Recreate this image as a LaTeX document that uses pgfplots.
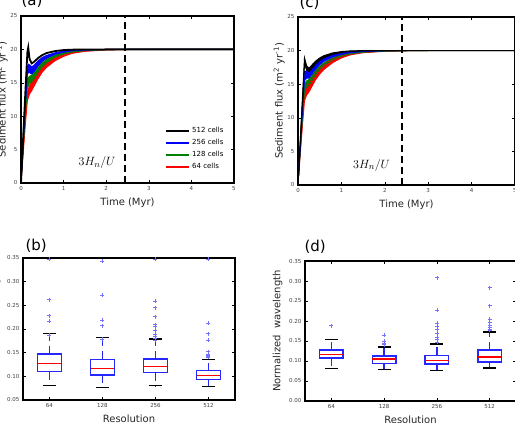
\documentclass[border=0pt]{standalone}
\usepackage{pgfplots}
\pgfplotsset{compat=1.18}
\usepgfplotslibrary{fillbetween}
\usepackage{fontspec}
\setmainfont{DejaVu Sans}
\definecolor{mplgreen}{rgb}{0,0.5,0}
\definecolor{mplblue}{rgb}{0,0,1}
\definecolor{mplred}{rgb}{1,0,0}
\definecolor{boxblue}{rgb}{0.15,0.15,1}
\pgfplotsset{
  base/.style={
    scale only axis,
    axis line style={line width=1.2pt},
    tick style={black, line width=0.5pt},
    major tick length=3pt,
    ticklabel style={font=\fontsize{5.5}{6}\selectfont, text=black!75},
    /pgf/number format/assume math mode=true,
    label style={font=\fontsize{10}{12}\selectfont, text=black!85},
  },
  fluxax/.style={base,
    xmin=0, xmax=5, ymin=0, ymax=25,
    xtick={0,1,2,3,4,5}, ytick={0,5,10,15,20,25},
    xlabel={Time (Myr)},
    ylabel={Sediment flux (m\textsuperscript{2} yr\textsuperscript{-1})},
    ylabel shift=-4pt,
  },
  boxax/.style={base,
    xmin=0.5, xmax=4.5, xtick={1,2,3,4}, xticklabels={64,128,256,512},
    scaled y ticks=false,
    yticklabel style={/pgf/number format/.cd, fixed, fixed zerofill, precision=2},
    xlabel={Resolution},
    ylabel={Normalized\ \ wavelength},
    unbounded coords=jump,
  },
}
\begin{document}
\begin{tikzpicture}

% ---------------- (a)
\begin{axis}[fluxax, at={(21pt,240pt)}, anchor=south west, width=213pt, height=167pt,
  legend style={at={(rel axis cs:0.975,0.05)}, anchor=south east, draw=none, fill=none,
    font=\fontsize{7}{8}\selectfont, row sep=1.2pt},
  legend cell align=left,
  legend image code/.code={\draw[#1, line width=1.8pt] (0pt,0pt) -- (23pt,0pt);}]
\addplot[name path=RUa, mplred, line width=0.8pt, forget plot] coordinates {(0,0)(0.05,5)(0.1,10)(0.15,13.6)(0.2,14.6)(0.25,15.1)(0.3,15.6)(0.4,16.6)(0.5,17.4)(0.6,18)(0.8,18.8)(1,19.25)(1.2,19.55)(1.5,19.8)(2,19.95)(2.5,20)(5,20)};
\addplot[name path=RLa, mplred, line width=0.8pt, forget plot] coordinates {(0,0)(0.05,4.2)(0.1,8.5)(0.15,12.3)(0.2,13.3)(0.25,13.8)(0.3,14.4)(0.4,15.6)(0.5,16.6)(0.6,17.3)(0.8,18.3)(1,18.95)(1.2,19.4)(1.5,19.7)(2,19.9)(2.5,19.97)(3,20)(5,20)};
\addplot[mplred, forget plot] fill between[of=RUa and RLa];
\addplot[name path=GUa, mplgreen, line width=0.8pt, forget plot] coordinates {(0,0)(0.05,5.5)(0.1,11)(0.15,15.6)(0.2,16)(0.25,16.1)(0.3,16.4)(0.4,17.3)(0.5,18)(0.6,18.5)(0.8,19.15)(1,19.5)(1.2,19.7)(1.5,19.87)(2,19.97)(2.5,20)(5,20)};
\addplot[name path=GLa, mplgreen, line width=0.8pt, forget plot] coordinates {(0,0)(0.05,5)(0.1,10)(0.15,14.2)(0.2,14.9)(0.25,15.1)(0.3,15.5)(0.4,16.6)(0.5,17.4)(0.6,18)(0.8,18.85)(1,19.3)(1.2,19.6)(1.5,19.8)(2,19.95)(2.5,20)(5,20)};
\addplot[mplgreen, forget plot] fill between[of=GUa and GLa];
\addplot[name path=BUa, mplblue, line width=0.8pt, forget plot] coordinates {(0,0)(0.05,6)(0.1,12)(0.15,17.4)(0.18,17.8)(0.25,17.4)(0.3,17.6)(0.4,18.3)(0.5,18.8)(0.6,19.1)(0.8,19.5)(1,19.75)(1.2,19.87)(1.5,19.95)(2,20)(5,20)};
\addplot[name path=BLa, mplblue, line width=0.8pt, forget plot] coordinates {(0,0)(0.05,5.6)(0.1,11.2)(0.15,16.2)(0.18,16.6)(0.25,16.3)(0.3,16.6)(0.4,17.5)(0.5,18.2)(0.6,18.65)(0.8,19.25)(1,19.57)(1.2,19.77)(1.5,19.9)(2,19.98)(2.5,20)(5,20)};
\addplot[mplblue, forget plot] fill between[of=BUa and BLa];
\addplot[black, line width=1.8pt, forget plot] coordinates {(0,0)(0.05,6.7)(0.1,13.3)(0.15,19.6)(0.17,20.3)(0.2,18.6)(0.25,17.9)(0.3,18.1)(0.4,18.7)(0.5,19.15)(0.6,19.45)(0.8,19.75)(1,19.9)(1.2,19.96)(1.5,19.99)(2,20)(5,20)};
\addplot[black, line width=1.5pt, dash pattern=on 7pt off 4pt, forget plot] coordinates {(2.44,0)(2.44,25)};
\node[anchor=base east, font=\fontsize{12.5}{14}\selectfont] at (axis cs:2.3,2.6) {$3H_n/U$};
\addlegendimage{black}\addlegendentry{512 cells}
\addlegendimage{mplblue}\addlegendentry{256 cells}
\addlegendimage{mplgreen}\addlegendentry{128 cells}
\addlegendimage{mplred}\addlegendentry{64 cells}
\end{axis}

% ---------------- (c)
\begin{axis}[fluxax, at={(298pt,238pt)}, anchor=south west, width=217pt, height=168pt]
\addplot[name path=RUc, mplred, line width=0.8pt, forget plot] coordinates {(0,0)(0.05,5)(0.1,10)(0.15,13.8)(0.2,14.6)(0.25,15)(0.3,15.5)(0.4,16.5)(0.5,17.3)(0.6,17.9)(0.8,18.75)(1,19.2)(1.2,19.52)(1.5,19.78)(2,19.94)(2.5,20)(5,20)};
\addplot[name path=RLc, mplred, line width=0.8pt, forget plot] coordinates {(0,0)(0.05,4.3)(0.1,8.6)(0.15,12.5)(0.2,13.4)(0.25,13.8)(0.3,14.4)(0.4,15.6)(0.5,16.5)(0.6,17.2)(0.8,18.2)(1,18.9)(1.2,19.35)(1.5,19.68)(2,19.88)(2.5,19.96)(3,20)(5,20)};
\addplot[mplred, forget plot] fill between[of=RUc and RLc];
\addplot[name path=GUc, mplgreen, line width=0.8pt, forget plot] coordinates {(0,0)(0.05,5.3)(0.1,10.6)(0.15,15.1)(0.2,15.5)(0.25,15.7)(0.3,16.1)(0.4,17)(0.5,17.7)(0.6,18.2)(0.8,18.95)(1,19.37)(1.2,19.62)(1.5,19.83)(2,19.95)(2.5,20)(5,20)};
\addplot[name path=GLc, mplgreen, line width=0.8pt, forget plot] coordinates {(0,0)(0.05,4.8)(0.1,9.6)(0.15,14)(0.2,14.6)(0.25,14.8)(0.3,15.3)(0.4,16.4)(0.5,17.2)(0.6,17.8)(0.8,18.65)(1,19.17)(1.2,19.5)(1.5,19.75)(2,19.92)(2.5,19.98)(3,20)(5,20)};
\addplot[mplgreen, forget plot] fill between[of=GUc and GLc];
\addplot[name path=BUc, mplblue, line width=0.8pt, forget plot] coordinates {(0,0)(0.05,5.8)(0.1,11.6)(0.15,16.9)(0.2,17)(0.25,16.9)(0.3,17.1)(0.4,17.9)(0.5,18.5)(0.6,18.9)(0.8,19.35)(1,19.62)(1.2,19.8)(1.5,19.92)(2,20)(5,20)};
\addplot[name path=BLc, mplblue, line width=0.8pt, forget plot] coordinates {(0,0)(0.05,5.3)(0.1,10.6)(0.15,15.5)(0.2,15.9)(0.25,15.9)(0.3,16.3)(0.4,17.2)(0.5,17.9)(0.6,18.4)(0.8,19.05)(1,19.42)(1.2,19.66)(1.5,19.85)(2,19.97)(2.5,20)(5,20)};
\addplot[mplblue, forget plot] fill between[of=BUc and BLc];
\addplot[name path=KUc, black, line width=1pt, forget plot] coordinates {(0,0)(0.05,6.3)(0.1,12.6)(0.15,18.9)(0.2,17.7)(0.25,17.4)(0.3,17.7)(0.4,18.4)(0.5,18.9)(0.6,19.25)(0.8,19.65)(1,19.85)(1.2,19.95)(1.5,20)(5,20)};
\addplot[name path=KLc, black, line width=1pt, forget plot] coordinates {(0,0)(0.05,6)(0.1,12)(0.15,18)(0.2,17.1)(0.25,16.9)(0.3,17.2)(0.4,18)(0.5,18.55)(0.6,18.95)(0.8,19.45)(1,19.72)(1.2,19.87)(1.5,19.96)(2,20)(5,20)};
\addplot[black, forget plot] fill between[of=KUc and KLc];
\addplot[black, line width=1.5pt, forget plot] coordinates {(1.5,20)(5,20)};
\addplot[black, line width=1.5pt, dash pattern=on 7pt off 4pt, forget plot] coordinates {(2.40,0)(2.40,25)};
\node[anchor=base east, font=\fontsize{12.5}{14}\selectfont] at (axis cs:2.2,2.5) {$3H_n/U$};
\end{axis}

% ---------------- (b)
\begin{axis}[boxax, at={(23pt,23pt)}, anchor=south west, width=212pt, height=142pt,
  ymin=0.05, ymax=0.35, ytick={0.05,0.10,0.15,0.20,0.25,0.30,0.35}]
\addplot[draw=boxblue, line width=1.5pt, dash pattern=on 8pt off 5pt] coordinates {
  (1,0.147)(1,0.191) (1,nan) (1,0.110)(1,0.080) (1,nan)
  (2,0.136)(2,0.182) (2,nan) (2,0.103)(2,0.077) (2,nan)
  (3,0.137)(3,0.179) (3,nan) (3,0.108)(3,0.080) (3,nan)
  (4,0.112)(4,0.135) (4,nan) (4,0.093)(4,0.078)};
\addplot[draw=black, line width=1.4pt] coordinates {
  (0.875,0.191)(1.125,0.191) (1,nan) (0.875,0.080)(1.125,0.080) (1,nan)
  (1.875,0.182)(2.125,0.182) (2,nan) (1.875,0.077)(2.125,0.077) (2,nan)
  (2.875,0.179)(3.125,0.179) (3,nan) (2.875,0.080)(3.125,0.080) (3,nan)
  (3.875,0.135)(4.125,0.135) (4,nan) (3.875,0.078)(4.125,0.078)};
\addplot[draw=boxblue, line width=1.5pt, line cap=rect, line join=miter] coordinates {
  (0.775,0.110)(1.225,0.110)(1.225,0.147)(0.775,0.147)(0.775,0.110) (1,nan)
  (1.775,0.103)(2.225,0.103)(2.225,0.136)(1.775,0.136)(1.775,0.103) (2,nan)
  (2.775,0.108)(3.225,0.108)(3.225,0.137)(2.775,0.137)(2.775,0.108) (3,nan)
  (3.775,0.093)(4.225,0.093)(4.225,0.112)(3.775,0.112)(3.775,0.093)};
\addplot[draw=mplred, line width=1.2pt] coordinates {
  (0.775,0.127)(1.225,0.127) (1,nan)
  (1.775,0.116)(2.225,0.116) (2,nan)
  (2.775,0.120)(3.225,0.120) (3,nan)
  (3.775,0.101)(4.225,0.101)};
\addplot[only marks, mark=+, mark size=2pt, mark options={draw=mplblue!55, line width=0.6pt}] coordinates {
  (1,0.262)(1,0.228)(1,0.217)(1,0.187)(1,0.347)
  (2,0.271)(2,0.218)(2,0.207)(2,0.178)(2,0.343)
  (3,0.259)(3,0.245)(3,0.226)(3,0.209)(3,0.206)(3,0.198)(3,0.189)(3,0.185)(3,0.181)(3,0.176)(3,0.347)
  (4,0.212)(4,0.190)(4,0.177)(4,0.152)(4,0.147)(4,0.145)(4,0.143)(4,0.140)(4,0.347)};
\end{axis}

% ---------------- (d)
\begin{axis}[boxax, at={(305pt,22pt)}, anchor=south west, width=211pt, height=140pt,
  ymin=0, ymax=0.35, ytick={0,0.05,0.10,0.15,0.20,0.25,0.30,0.35}]
\addplot[draw=boxblue, line width=1.5pt, dash pattern=on 8pt off 5pt] coordinates {
  (1,0.127)(1,0.153) (1,nan) (1,0.108)(1,0.0815) (1,nan)
  (2,0.113)(2,0.135) (2,nan) (2,0.094)(2,0.079) (2,nan)
  (3,0.114)(3,0.142) (3,nan) (3,0.093)(3,0.076) (3,nan)
  (4,0.128)(4,0.172) (4,nan) (4,0.097)(4,0.082)};
\addplot[draw=black, line width=1.4pt] coordinates {
  (0.875,0.153)(1.125,0.153) (1,nan) (0.875,0.0815)(1.125,0.0815) (1,nan)
  (1.875,0.135)(2.125,0.135) (2,nan) (1.875,0.079)(2.125,0.079) (2,nan)
  (2.875,0.142)(3.125,0.142) (3,nan) (2.875,0.076)(3.125,0.076) (3,nan)
  (3.875,0.172)(4.125,0.172) (4,nan) (3.875,0.082)(4.125,0.082)};
\addplot[draw=boxblue, line width=1.5pt, line cap=rect, line join=miter] coordinates {
  (0.775,0.108)(1.225,0.108)(1.225,0.127)(0.775,0.127)(0.775,0.108) (1,nan)
  (1.775,0.094)(2.225,0.094)(2.225,0.113)(1.775,0.113)(1.775,0.094) (2,nan)
  (2.775,0.093)(3.225,0.093)(3.225,0.114)(2.775,0.114)(2.775,0.093) (3,nan)
  (3.775,0.097)(4.225,0.097)(4.225,0.128)(3.775,0.128)(3.775,0.097)};
\addplot[draw=mplred, line width=1.2pt] coordinates {
  (0.775,0.117)(1.225,0.117) (1,nan)
  (1.775,0.105)(2.225,0.105) (2,nan)
  (2.775,0.102)(3.225,0.102) (3,nan)
  (3.775,0.110)(4.225,0.110)};
\addplot[only marks, mark=+, mark size=2pt, mark options={draw=mplblue!55, line width=0.6pt}] coordinates {
  (1,0.188)
  (2,0.165)(2,0.150)(2,0.145)(2,0.141)
  (3,0.308)(3,0.227)(3,0.194)(3,0.187)(3,0.178)(3,0.168)(3,0.160)(3,0.153)(3,0.147)
  (4,0.283)(4,0.238)(4,0.204)(4,0.196)(4,0.190)(4,0.185)(4,0.180)(4,0.177)};
\end{axis}

% panel letters
\node[anchor=base west, font=\fontsize{15}{18}\selectfont] at (18pt,417pt) {(a)};
\node[anchor=base west, font=\fontsize{15}{18}\selectfont] at (296pt,415pt) {(c)};
\node[anchor=base west, font=\fontsize{15}{18}\selectfont] at (22pt,172pt) {(b)};
\node[anchor=base west, font=\fontsize{15}{18}\selectfont] at (301pt,171pt) {(d)};

\pgfresetboundingbox
\path[use as bounding box] (0pt,0pt) rectangle (515pt,423pt);
\end{tikzpicture}
\end{document}
